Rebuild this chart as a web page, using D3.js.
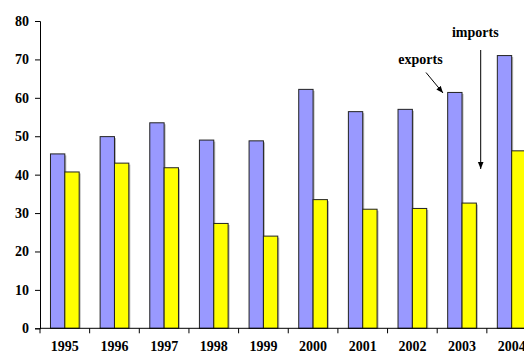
<!DOCTYPE html>
<html>
<head>
<meta charset="utf-8">
<script src="https://cdn.jsdelivr.net/npm/d3@7"></script>
<style>
  html, body { margin: 0; padding: 0; background: #fff; }
  svg { display: block; }
  text { font-family: "Liberation Serif", "Times New Roman", serif; font-weight: bold; fill: #000; }
</style>
</head>
<body>
<div id="chart"></div>
<script>
// Trade values by year
const years = ["1995","1996","1997","1998","1999","2000","2001","2002","2003","2004"];
const exportsVals = [45.4, 49.9, 53.5, 49.0, 48.8, 62.2, 56.4, 57.0, 61.4, 71.0];
const importsVals = [40.7, 43.0, 41.8, 27.3, 24.0, 33.5, 31.0, 31.2, 32.6, 46.2];
const seriesNames = ["exports", "imports"];
const seriesColors = ["#9999FF", "#FFFF00"];
const yTicks = [0, 10, 20, 30, 40, 50, 60, 70, 80];

const W = 524, H = 354;
const FONT = 14;
const svg = d3.select("#chart").append("svg").attr("width", W).attr("height", H);

const plotLeft = 40, plotBottom = 328.3, plotTop = 21;
const x = d3.scaleBand().domain(years).range([plotLeft, plotLeft + 10 * 49.65]).padding(0);
const x1 = d3.scaleBand().domain(seriesNames).range([0, x.bandwidth()]).paddingInner(0).paddingOuter(0.73);
const y = d3.scaleLinear().domain([0, 80]).range([plotBottom, plotTop]);

const rows = years.map((yr, i) => ({ year: yr, values: [exportsVals[i], importsVals[i]] }));

const groups = svg.append("g").selectAll("g").data(rows).join("g")
  .attr("transform", d => `translate(${x(d.year)},0)`);

// soft drop shadow behind each bar
groups.selectAll("rect.shadow").data(d => d.values.map((v, k) => ({ v, k }))).join("rect")
  .attr("class", "shadow")
  .attr("x", d => x1(seriesNames[d.k]) + 1.5)
  .attr("y", d => y(d.v) + 1.5)
  .attr("width", x1.bandwidth())
  .attr("height", d => plotBottom - y(d.v) - 1.5)
  .attr("fill", "#b8b8b8");

groups.selectAll("rect.bar").data(d => d.values.map((v, k) => ({ v, k }))).join("rect")
  .attr("class", "bar")
  .attr("x", d => x1(seriesNames[d.k]))
  .attr("y", d => y(d.v))
  .attr("width", x1.bandwidth())
  .attr("height", d => plotBottom - y(d.v))
  .attr("fill", d => seriesColors[d.k])
  .attr("stroke", "#222")
  .attr("stroke-width", 1);

// Y axis
const yAxis = svg.append("g").attr("transform", `translate(${plotLeft},0)`)
  .call(d3.axisLeft(y).tickValues(yTicks).tickSize(5).tickPadding(6).tickFormat(d3.format("d")));
yAxis.select(".domain").attr("stroke", "#000");
yAxis.selectAll(".tick line").attr("stroke", "#000");
yAxis.selectAll("text").attr("font-size", FONT).attr("font-family", "Liberation Serif").attr("font-weight", "bold");

// X axis: ticks at category boundaries
const xAxisG = svg.append("g").attr("transform", `translate(0,${plotBottom})`);
xAxisG.append("line").attr("x1", plotLeft).attr("x2", W).attr("y1", 0).attr("y2", 0).attr("stroke", "#000");
xAxisG.selectAll("line.tick").data(years).join("line")
  .attr("class", "tick")
  .attr("x1", d => x(d) + x.bandwidth()).attr("x2", d => x(d) + x.bandwidth())
  .attr("y1", 0).attr("y2", 5).attr("stroke", "#000");
xAxisG.append("line").attr("x1", plotLeft).attr("x2", plotLeft).attr("y1", 0).attr("y2", 5).attr("stroke", "#000");
xAxisG.selectAll("text").data(years).join("text")
  .attr("x", d => x(d) + x.bandwidth() / 2)
  .attr("y", 22.7)
  .attr("text-anchor", "middle")
  .attr("font-size", FONT)
  .text(d => d);

// Annotations
const defs = svg.append("defs");
defs.append("marker").attr("id", "arrow").attr("viewBox", "0 0 10 10")
  .attr("refX", 10).attr("refY", 5).attr("markerWidth", 7).attr("markerHeight", 7)
  .attr("orient", "auto")
  .append("path").attr("d", "M0,1 L10,5 L0,9 Z").attr("fill", "#000");

svg.append("text").attr("x", 475.3).attr("y", 36.5).attr("text-anchor", "middle").attr("font-size", FONT).text("imports");
svg.append("line").attr("x1", 480.7).attr("y1", 50).attr("x2", 480.7).attr("y2", 169)
  .attr("stroke", "#000").attr("stroke-width", 1).attr("marker-end", "url(#arrow)");

svg.append("text").attr("x", 420.5).attr("y", 64).attr("text-anchor", "middle").attr("font-size", FONT).text("exports");
svg.append("line").attr("x1", 426).attr("y1", 72.5).attr("x2", 443).attr("y2", 93)
  .attr("stroke", "#000").attr("stroke-width", 1).attr("marker-end", "url(#arrow)");
</script>
</body>
</html>
